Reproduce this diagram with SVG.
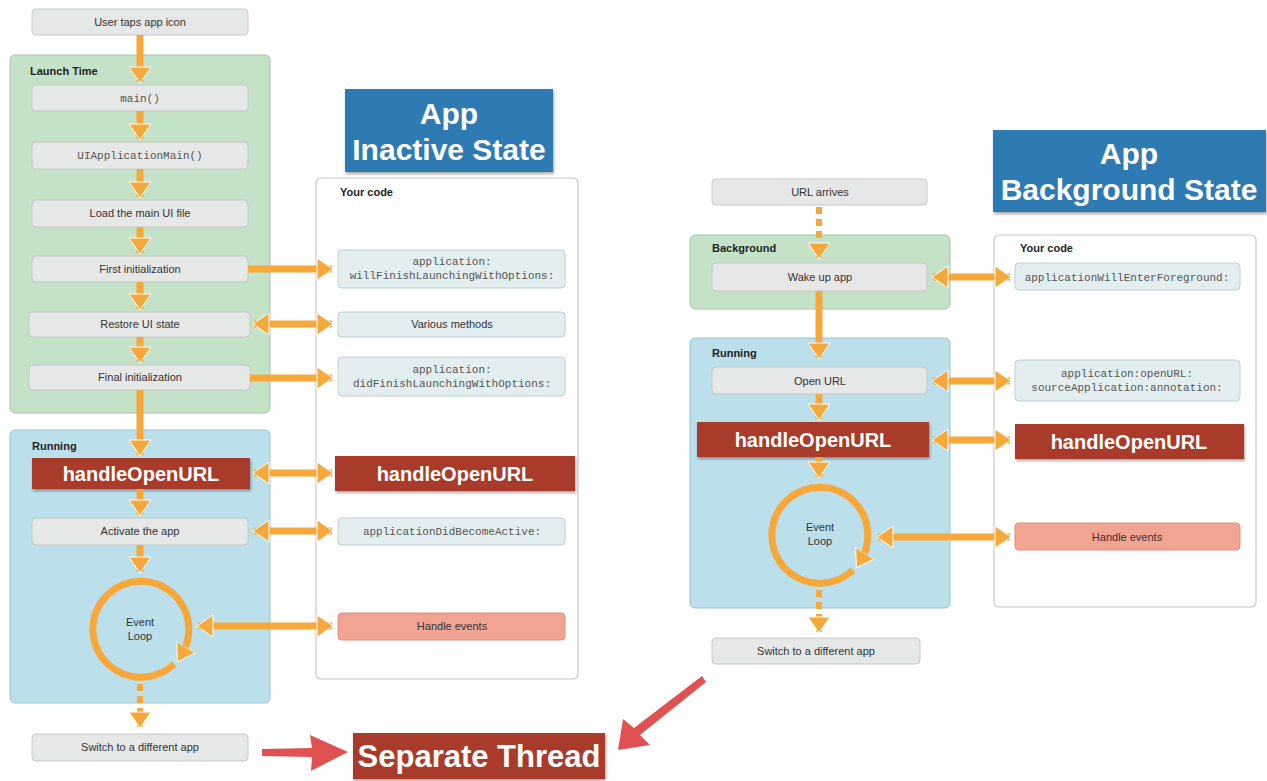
<svg xmlns="http://www.w3.org/2000/svg" width="1267" height="781" viewBox="0 0 1267 781">
<defs>
<marker id="ah" markerUnits="userSpaceOnUse" markerWidth="26" markerHeight="26" viewBox="0 0 26 26" refX="17" refY="13" orient="auto-start-reverse">
<path d="M2,2 L18,13 L2,24 Z" fill="#F6A83B" stroke="#fff" stroke-width="1"/>
</marker>
<marker id="ahc" markerUnits="userSpaceOnUse" markerWidth="26" markerHeight="26" viewBox="0 0 26 26" refX="8" refY="13" orient="auto">
<path d="M0,2 L17,13 L0,24 Z" fill="#F6A83B" stroke="#fff" stroke-width="1"/>
</marker>
<filter id="sh" x="-10%" y="-20%" width="120%" height="150%">
<feDropShadow dx="1" dy="2" stdDeviation="1.5" flood-color="#000" flood-opacity="0.35"/>
</filter>
</defs>
<style>
.box{fill:#E6E7E7;stroke:#C6C8C8;stroke-width:1}
.code{fill:#E2EEF0;stroke:#BECFD2;stroke-width:1}
.evt{fill:#F2A493;stroke:#D99080;stroke-width:1}
.green{fill:#C3E2C8;stroke:#A6C8AC;stroke-width:1}
.blue{fill:#BBE0EC;stroke:#9DC3D0;stroke-width:1}
.yc{fill:#fff;stroke:#C8C8C8;stroke-width:1.2}
.red{fill:#A93A2B;filter:url(#sh)}
.title{fill:#2E7AB2;filter:url(#sh)}
.t{font-family:"Liberation Sans",Arial,sans-serif;font-size:11px;fill:#333;text-anchor:middle}
.h{font-family:"Liberation Sans",Arial,sans-serif;font-size:11px;font-weight:bold;fill:#222}
.m{font-family:"Liberation Mono","DejaVu Sans Mono",monospace;font-size:11px;fill:#555;text-anchor:middle}
.rt{font-family:"Liberation Sans",Arial,sans-serif;font-size:20px;font-weight:bold;fill:#fff;text-anchor:middle}
.tt{font-family:"Liberation Sans",Arial,sans-serif;font-size:30px;font-weight:bold;fill:#fff;text-anchor:middle}
.a{fill:none;stroke:#F6A83B;stroke-width:7;marker-end:url(#ah)}
.d{fill:none;stroke:#F6A83B;stroke-width:7;marker-start:url(#ah);marker-end:url(#ah)}
.dash{fill:none;stroke:#F6A83B;stroke-width:6;stroke-dasharray:7,5;marker-end:url(#ah)}
.loop{fill:none;stroke:#F6A83B;stroke-width:7;marker-end:url(#ahc)}
</style>
<rect width="1267" height="781" fill="#fff"/>

<!-- Left panels -->
<g id="launch-time"><rect class="green" x="10" y="55" width="260" height="358" rx="5"/><text class="h" x="30" y="75">Launch Time</text></g>
<g id="running-left"><rect class="blue" x="10" y="430" width="260" height="273" rx="5"/><text class="h" x="32" y="450">Running</text></g>
<g id="yourcode-left"><rect class="yc" x="316" y="178" width="262" height="501" rx="5"/><text class="h" x="340" y="196">Your code</text></g>

<g id="title-inactive"><rect class="title" x="345" y="89" width="208" height="83"/><text class="tt" x="449" y="124">App</text><text class="tt" x="449" y="160">Inactive State</text></g>

<g id="user-taps"><rect class="box" x="32" y="9" width="216" height="26" rx="4"/><text class="t" x="140" y="26">User taps app icon</text></g>
<g id="main"><rect class="box" x="32" y="85" width="216" height="26" rx="4"/><text class="m" x="140" y="102">main()</text></g>
<g id="uiappmain"><rect class="box" x="32" y="142" width="216" height="27" rx="4"/><text class="m" x="140" y="159">UIApplicationMain()</text></g>
<g id="load-ui"><rect class="box" x="32" y="200" width="216" height="27" rx="4"/><text class="t" x="140" y="217">Load the main UI file</text></g>
<g id="first-init"><rect class="box" x="32" y="256" width="216" height="26" rx="4"/><text class="t" x="140" y="273">First initialization</text></g>
<g id="restore-ui"><rect class="box" x="29" y="312" width="221" height="25" rx="4"/><text class="t" x="140" y="328">Restore UI state</text></g>
<g id="final-init"><rect class="box" x="29" y="365" width="221" height="25" rx="4"/><text class="t" x="140" y="381">Final initialization</text></g>
<g id="handle-left"><rect class="red" x="32" y="458" width="218" height="31"/><text class="rt" x="141" y="481">handleOpenURL</text></g>
<g id="activate"><rect class="box" x="32" y="518" width="216" height="27" rx="4"/><text class="t" x="140" y="535">Activate the app</text></g>
<g id="event-loop-left"><text class="t" x="140" y="626">Event</text><text class="t" x="140" y="640">Loop</text></g>
<g id="switch-left"><rect class="box" x="32" y="734" width="216" height="27" rx="4"/><text class="t" x="140" y="751">Switch to a different app</text></g>

<g id="will-finish"><rect class="code" x="338" y="250" width="227" height="38" rx="4"/><text class="m" x="452" y="265">application:</text><text class="m" x="452" y="279" fill="#333">willFinishLaunchingWithOptions:</text></g>
<g id="various"><rect class="code" x="338" y="312" width="227" height="25" rx="4"/><text class="t" x="452" y="328">Various methods</text></g>
<g id="did-finish"><rect class="code" x="338" y="357" width="227" height="39" rx="4"/><text class="m" x="452" y="373" fill="#333">application:</text><text class="m" x="452" y="387" fill="#333">didFinishLaunchingWithOptions:</text></g>
<g id="handle-left-code"><rect class="red" x="335" y="456" width="240" height="35"/><text class="rt" x="455" y="481">handleOpenURL</text></g>
<g id="did-become-active"><rect class="code" x="338" y="518" width="227" height="27" rx="4"/><text class="m" x="452" y="535">applicationDidBecomeActive:</text></g>
<g id="handle-events-left"><rect class="evt" x="338" y="613" width="227" height="27" rx="4"/><text class="t" x="452" y="630">Handle events</text></g>

<!-- Right side -->
<g id="title-background"><rect class="title" x="993" y="130" width="273" height="82"/><text class="tt" x="1129" y="164">App</text><text class="tt" x="1129" y="200">Background State</text></g>
<g id="background"><rect class="green" x="690" y="235" width="260" height="74" rx="5"/><text class="h" x="712" y="252">Background</text></g>
<g id="running-right"><rect class="blue" x="690" y="338" width="260" height="270" rx="5"/><text class="h" x="712" y="357">Running</text></g>
<g id="yourcode-right"><rect class="yc" x="994" y="235" width="262" height="372" rx="5"/><text class="h" x="1020" y="252">Your code</text></g>

<g id="url-arrives"><rect class="box" x="712" y="179" width="215" height="26" rx="4"/><text class="t" x="820" y="196">URL arrives</text></g>
<g id="wake-up"><rect class="box" x="712" y="263" width="215" height="28" rx="4"/><text class="t" x="820" y="281">Wake up app</text></g>
<g id="open-url"><rect class="box" x="712" y="367" width="215" height="27" rx="4"/><text class="t" x="820" y="385">Open URL</text></g>
<g id="handle-right"><rect class="red" x="697" y="422" width="232" height="35"/><text class="rt" x="813" y="447">handleOpenURL</text></g>
<g id="event-loop-right"><text class="t" x="820" y="531">Event</text><text class="t" x="820" y="545">Loop</text></g>
<g id="switch-right"><rect class="box" x="712" y="638" width="208" height="26" rx="4"/><text class="t" x="816" y="655">Switch to a different app</text></g>

<g id="will-enter-fg"><rect class="code" x="1015" y="263" width="225" height="27" rx="4"/><text class="m" x="1127" y="281" fill="#333">applicationWillEnterForeground:</text></g>
<g id="open-url-code"><rect class="code" x="1015" y="360" width="225" height="41" rx="4"/><text class="m" x="1127" y="377" fill="#333">application:openURL:</text><text class="m" x="1127" y="391" fill="#333">sourceApplication:annotation:</text></g>
<g id="handle-right-code"><rect class="red" x="1015" y="424" width="229" height="35"/><text class="rt" x="1129" y="449">handleOpenURL</text></g>
<g id="handle-events-right"><rect class="evt" x="1015" y="523" width="225" height="27" rx="4"/><text class="t" x="1127" y="541">Handle events</text></g>

<g id="separate-thread"><rect class="red" x="353" y="733" width="252" height="46"/><text x="479" y="767" font-family="Liberation Sans,Arial,sans-serif" font-size="31" font-weight="bold" fill="#fff" text-anchor="middle">Separate Thread</text></g>

<!-- Connectors -->
<g id="connectors">
<path class="a" d="M140,35 V82"/>
<path class="a" d="M140,111 V139"/>
<path class="a" d="M140,169 V197"/>
<path class="a" d="M140,227 V253"/>
<path class="a" d="M140,282 V309"/>
<path class="a" d="M140,337 V362"/>
<path class="a" d="M140,390 V455"/>
<path class="a" d="M140,489 V515"/>
<path class="a" d="M140,545 V572"/>
<path class="dash" d="M140,684 V727"/>
<path class="a" d="M248,269 H332"/>
<path class="d" d="M254,324 H332"/>
<path class="a" d="M250,378 H332"/>
<path class="d" d="M254,473 H332"/>
<path class="d" d="M254,531 H332"/>
<path class="d" d="M198,626 H332"/>
<path class="loop" d="M174,664 A48,48 0 1 1 182,654"/>

<path class="dash" d="M819,207 V258"/>
<path class="a" d="M819,291 V358"/>
<path class="a" d="M819,394 V419"/>
<path class="a" d="M819,457 V477"/>
<path class="dash" d="M819,590 V632"/>
<path class="d" d="M933,277 H1010"/>
<path class="d" d="M933,381 H1010"/>
<path class="d" d="M933,440 H1010"/>
<path class="d" d="M878,537 H1010"/>
<path class="loop" d="M853,570 A48,48 0 1 1 861,560"/>

<path d="M262,749 L312,748 L310,735 L348,752 L311,771 L312,757 L262,756 Z" fill="#E05252"/>
<path d="M702,676 L706,682 L640,735 L650,745 L618,750 L623,719 L634,728 Z" fill="#E05252"/>
</g>
</svg>
